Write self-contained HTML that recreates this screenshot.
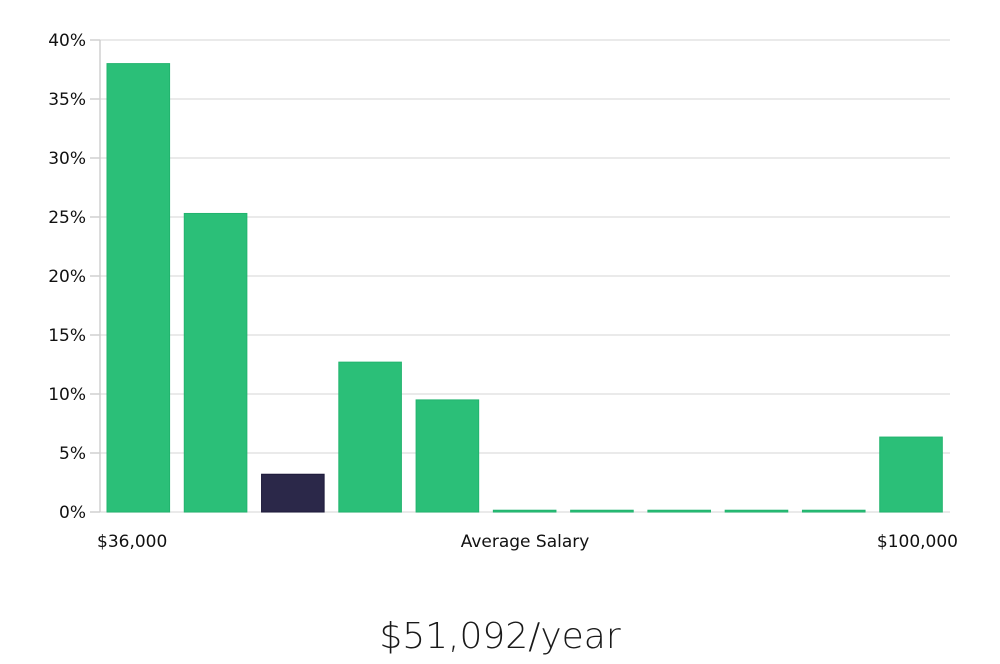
<!DOCTYPE html>
<html><head><meta charset="utf-8">
<style>
body{margin:0;background:#fff;width:1000px;height:660px;overflow:hidden;font-family:"DejaVu Sans","Liberation Sans",sans-serif;}
svg text{font-family:"DejaVu Sans","Liberation Sans",sans-serif;}
</style></head><body>
<svg id="chart" width="1000" height="660" xmlns="http://www.w3.org/2000/svg">
<g id="grid"></g>
<g id="yaxis"></g>
<g id="bars"></g>
<g id="xaxis"></g>
<text x="500" y="648" text-anchor="middle" font-size="36" fill="#1a1a1a" style="font-family:'DejaVu Sans','Liberation Sans',sans-serif;font-weight:200">$51,092/year</text>
</svg>
<script>
const values = [38, 25.3, 3.2, 12.7, 9.5, 0.15, 0.15, 0.15, 0.15, 0.15, 6.35];
const highlight = [false, false, true, false, false, false, false, false, false, false, false];
const yTicks = [0, 5, 10, 15, 20, 25, 30, 35, 40];
const xLabels = ["$36,000", "Average Salary", "$100,000"];

const NS = "http://www.w3.org/2000/svg";
const x0 = 100, x1 = 950, yTop = 40, yBot = 512, yMax = 40;
const y = v => yBot - (v / yMax) * (yBot - yTop);
const pitch = (x1 - x0) / values.length;
const bw = pitch * 0.81;
const bx = i => x0 + 7 + i * pitch;
function mk(tag, attrs, parent){const e=document.createElementNS(NS,tag);for(const k in attrs)e.setAttribute(k,attrs[k]);parent.appendChild(e);return e;}
const grid=document.getElementById('grid'), ya=document.getElementById('yaxis'), bars=document.getElementById('bars'), xa=document.getElementById('xaxis');
yTicks.forEach(t=>{
  const l=mk('line',{x1:x0,x2:x1,y1:y(t),y2:y(t),stroke:'#e3e3e3','stroke-width':1.5},grid);
  
  
  const tk=mk('line',{x1:x0-10,x2:x0,y1:y(t),y2:y(t),stroke:'#d0d0d0','stroke-width':1.5},ya);
  
  
  const tx=mk('text',{x:x0-14,y:y(t)+6,'text-anchor':'end','font-size':17,fill:'#111'},ya);
  tx.textContent=t+'%';
  
  
});
const ax=mk('line',{x1:x0,x2:x0,y1:yTop,y2:yBot,stroke:'#d0d0d0','stroke-width':1.5},ya);


values.forEach((v,i)=>{
  const r=mk('rect',{x:bx(i),y:y(v),width:bw,height:yBot-y(v),fill:highlight[i]?'#2b2849':'#2bbf78',stroke:highlight[i]?'#1d1a3a':'#22b46e','stroke-width':1},bars);
  
  
});
const pos=[[97,'start'],[525,'middle'],[958,'end']];
xLabels.forEach((s,i)=>{
  const t=mk('text',{x:pos[i][0],y:547,'text-anchor':pos[i][1],'font-size':17,fill:'#111'},xa);
  t.textContent=s;
  
  
});
</script>
</body></html>
